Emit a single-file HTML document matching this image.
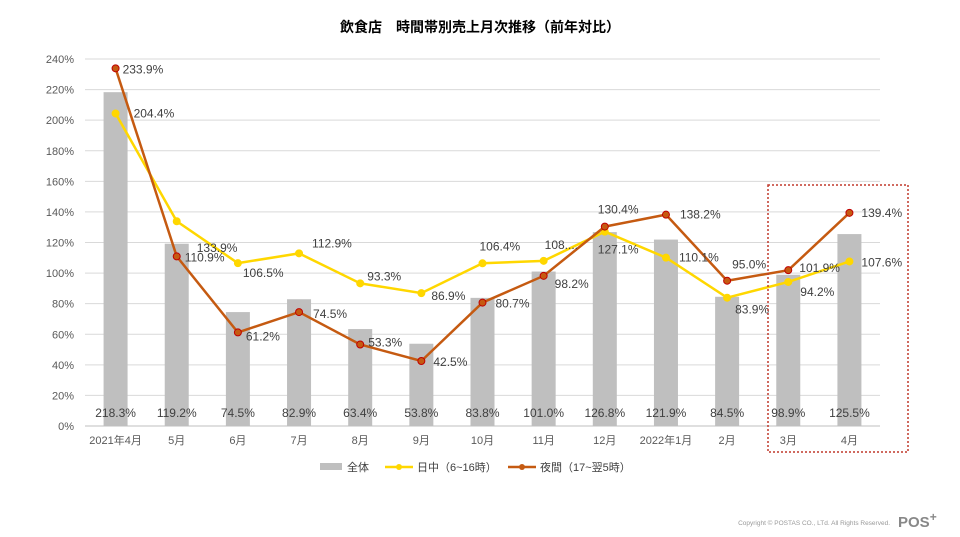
<!DOCTYPE html>
<html><head><meta charset="utf-8"><style>
body{margin:0;background:#fff;}
svg{display:block;font-family:"Liberation Sans","Noto Sans CJK JP",sans-serif;}
</style></head><body>
<svg id="c" width="960" height="537">
<text x="480" y="32" text-anchor="middle" font-size="14" font-weight="bold" fill="#000">飲食店　時間帯別売上月次推移（前年対比）</text>
<g id="grid"></g><g id="bars"></g><g id="lines"></g><g id="labels"></g>
<rect x="768" y="185" width="140" height="267" fill="none" stroke="#c0392b" stroke-width="1.5" stroke-dasharray="2,2"/>
<g font-size="11" fill="#404040">
<g><rect x="320" y="463" width="22" height="7" fill="#bfbfbf"/><text x="347" y="471">全体</text></g>
<g><line x1="385" y1="467" x2="413" y2="467" stroke="#ffd700" stroke-width="2.5"/><circle cx="399" cy="467" r="3" fill="#ffd700"/><text x="417" y="471">日中（6~16時）</text></g>
<g><line x1="508" y1="467" x2="536" y2="467" stroke="#c55a11" stroke-width="2.5"/><circle cx="522" cy="467" r="3" fill="#c55a11"/><text x="540" y="471">夜間（17~翌5時）</text></g>
</g>
<text x="890" y="525" text-anchor="end" font-size="6.5" fill="#999">Copyright © POSTAS CO., LTd. All Rights Reserved.</text>
<text x="898" y="527" font-size="15" font-weight="bold" fill="#888">POS<tspan font-size="12" dy="-6">+</tspan></text>
</svg>
<script>
const categories=["2021年4月","5月","6月","7月","8月","9月","10月","11月","12月","2022年1月","2月","3月","4月"];
const totalValues=[218.3,119.2,74.5,82.9,63.4,53.8,83.8,101.0,126.8,121.9,84.5,98.9,125.5];
const dayValues=[204.4,133.9,106.5,112.9,93.3,86.9,106.4,108.0,127.1,110.1,83.9,94.2,107.6];
const dayLabels=["204.4%","133.9%","106.5%","112.9%","93.3%","86.9%","106.4%","108....","127.1%","110.1%","83.9%","94.2%","107.6%"];
const nightValues=[233.9,110.9,61.2,74.5,53.3,42.5,80.7,98.2,130.4,138.2,95.0,101.9,139.4];
const yTicks=[0,20,40,60,80,100,120,140,160,180,200,220,240];
const dayOff=[[18,0],[20,27],[5,10],[13,-10],[7,-7],[10,3],[-3,-17],[1,-16],[-7,18],[13,0],[8,12],[12,10],[12,1]];
const nightOff=[[7,1],[8,1],[8,4],[14,2],[8,-2],[12,1],[13,1],[11,8],[-7,-17],[14,0],[5,-16],[11,-2],[12,0]];
const NS="http://www.w3.org/2000/svg";
const x0=85,x1=880,yBase=426,yTop=59;
const step=(x1-x0)/categories.length;
const xs=i=>x0+step*(i+0.5);
const ys=v=>yBase-(v/240)*(yBase-yTop);
function mk(tag,attrs,parent,text){const e=document.createElementNS(NS,tag);for(const k in attrs)e.setAttribute(k,attrs[k]);if(text!==undefined)e.textContent=text;document.getElementById(parent).appendChild(e);return e;}
yTicks.forEach(t=>{
  const l=mk('line',{x1:x0,x2:x1,y1:ys(t),y2:ys(t),stroke:t===0?'#bfbfbf':'#d9d9d9','stroke-width':1},'grid');
  
  
  const tx=mk('text',{x:74,y:ys(t)+4,'text-anchor':'end','font-size':11,fill:'#595959'},'grid',t+'%');
  
  
});
categories.forEach((c,i)=>{
  const tx=mk('text',{x:xs(i),y:444,'text-anchor':'middle','font-size':11,fill:'#595959'},'grid',c);
  
  
});
totalValues.forEach((v,i)=>{
  const r=mk('rect',{x:xs(i)-12,y:ys(v),width:24,height:yBase-ys(v),fill:'#bfbfbf'},'bars');
  
  
  const t=mk('text',{x:xs(i),y:417,'text-anchor':'middle','font-size':12,fill:'#404040'},'labels',v.toFixed(1)+'%');
  
  
});
function series(vals,color,name,labels,off){
  const p=mk('polyline',{points:vals.map((v,i)=>xs(i)+','+ys(v)).join(' '),fill:'none',stroke:color,'stroke-width':2.5},'lines');
  
  
  vals.forEach((v,i)=>{
    const c=mk('circle',{cx:xs(i),cy:ys(v),r:3.5,fill:color,stroke:name==='night'?'#c00000':color,'stroke-width':1},'lines');
    
    
    const t=mk('text',{x:xs(i)+off[i][0],y:ys(v)+off[i][1]+4,'font-size':12,fill:'#404040'},'labels',labels[i]);
    
    
  });
}
series(dayValues,'#ffd700','day',dayLabels,dayOff);
series(nightValues,'#c55a11','night',nightValues.map(v=>v.toFixed(1)+'%'),nightOff);
</script>
</body></html>
